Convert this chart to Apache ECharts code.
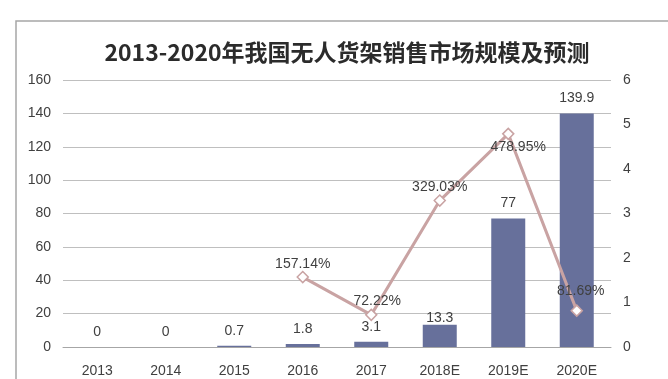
<!DOCTYPE html>
<html><head><meta charset="utf-8">
<script src="https://cdn.jsdelivr.net/npm/echarts@6/dist/echarts.min.js"></script>
<style>html,body{margin:0;padding:0;background:#fff}#c{width:668px;height:379px}</style>
</head><body><div id="c"></div>
<script>
var categories = ['2013','2014','2015','2016','2017','2018E','2019E','2020E'];
var marketSize = [0, 0, 0.7, 1.8, 3.1, 13.3, 77, 139.9];
var growthRate = [null, null, null, 1.5714, 0.7222, 3.2903, 4.7895, 0.8169];
var growthLabels = ['', '', '', '157.14%', '72.22%', '329.03%', '478.95%', '81.69%'];
var leftTicks = [0, 160, 20];
var rightTicks = [0, 6, 1];

var chart = echarts.init(document.getElementById('c'));
var txt = '#404040';
var ff = 'Liberation Sans';
var lineData = growthRate.map(function (v, i) {
  if (v === null) return null;
  var d = { value: v, label: { formatter: growthLabels[i] } };
  if (i === 4) d.label.offset = [6, 0];
  if (i === 6) { d.label.position = 'bottom'; d.label.offset = [10, 0]; }
  if (i === 7) { d.label.offset = [4, -6]; }
  return d;
});
var barData = marketSize.map(function (v, i) {
  var d = { value: v };
  if (i === 5) d.label = { offset: [0, 8] };
  return d;
});
chart.setOption({
  animation: false,
  title: {
    text: '2013-2020年我国无人货架销售市场规模及预测',
    left: 342, top: 36, textAlign: 'center',
    textStyle: { fontFamily: 'Noto Sans CJK SC', fontWeight: 'bold', fontSize: 23, color: '#2b2b2b' }
  },
  graphic: [{
    type: 'rect', shape: { x: 16, y: 21, width: 700, height: 400 },
    style: { fill: 'none', stroke: '#a6a6a6', lineWidth: 1.5 }, silent: true
  }],
  grid: { left: 63, right: 57, top: 80, bottom: 32 },
  xAxis: {
    type: 'category', data: categories,
    axisLine: { lineStyle: { color: '#a6a6a6' } },
    axisTick: { show: false },
    axisLabel: { color: txt, fontSize: 14, fontFamily: ff, margin: 17 }
  },
  yAxis: [{
    type: 'value', min: leftTicks[0], max: leftTicks[1], interval: leftTicks[2],
    axisLine: { show: false }, axisTick: { show: false },
    splitLine: { lineStyle: { color: '#bfbfbf' } },
    axisLabel: { color: txt, fontSize: 14, fontFamily: ff, margin: 12 }
  }, {
    type: 'value', min: rightTicks[0], max: rightTicks[1], interval: rightTicks[2],
    axisLine: { show: false }, axisTick: { show: false },
    splitLine: { show: false },
    axisLabel: { color: txt, fontSize: 14, fontFamily: ff, margin: 12 }
  }],
  series: [{
    type: 'bar', data: barData, barWidth: 34, yAxisIndex: 0,
    itemStyle: { color: '#67709b' },
    label: { show: true, position: 'top', color: txt, fontSize: 14, fontFamily: ff, distance: 8 }
  }, {
    type: 'line', data: lineData, yAxisIndex: 1, connectNulls: false,
    symbol: 'diamond', symbolSize: 11, showAllSymbol: true,
    lineStyle: { color: '#c9a3a3', width: 3 },
    itemStyle: { color: '#fff', borderColor: '#c9a3a3', borderWidth: 1.5 },
    label: { show: true, position: 'top', color: txt, fontSize: 14, fontFamily: ff, distance: 0 }
  }]
});
</script></body></html>
